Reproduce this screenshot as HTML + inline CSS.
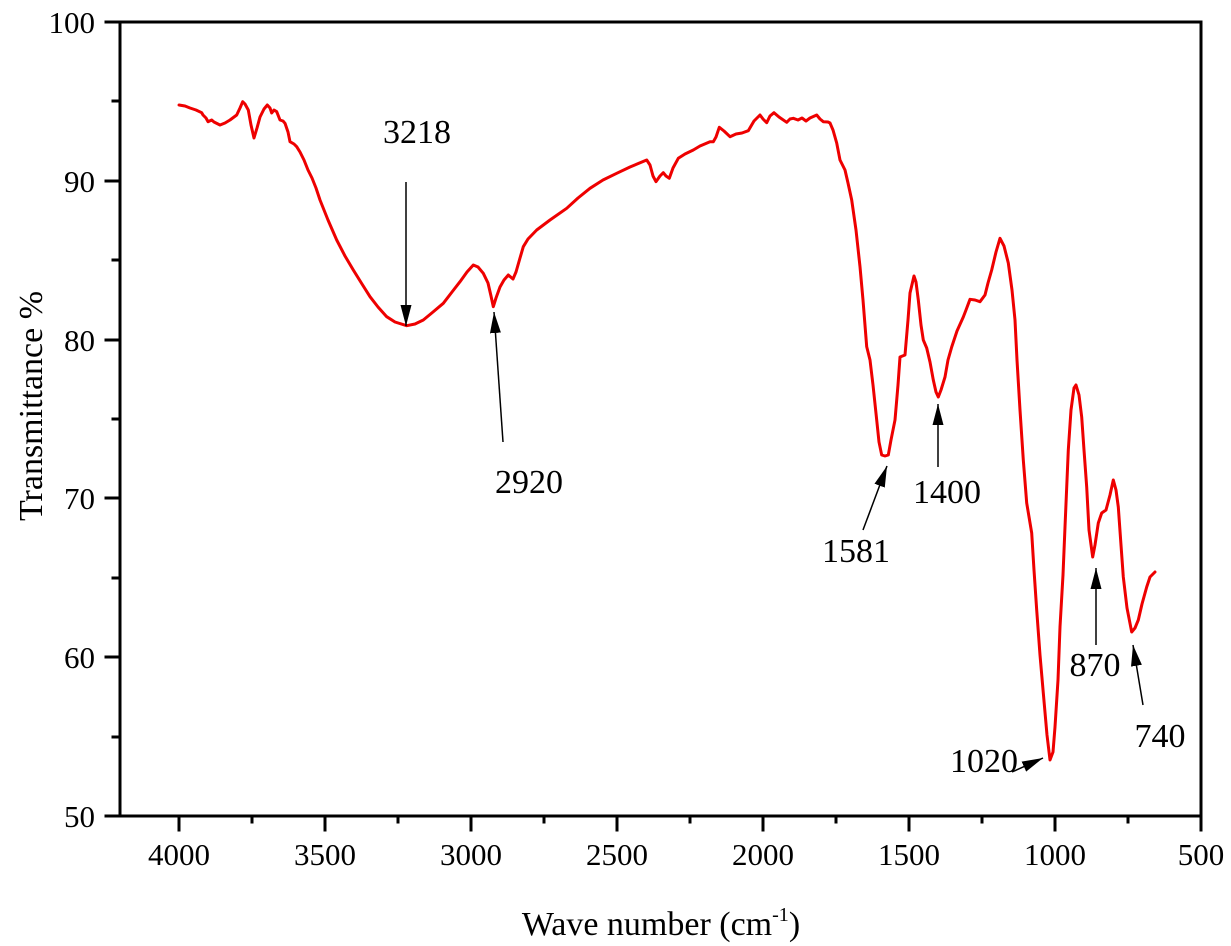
<!DOCTYPE html>
<html>
<head>
<meta charset="utf-8">
<style>
html,body{margin:0;padding:0;background:#fff;}
svg{display:block;}
text{font-family:"Liberation Serif","Times New Roman",serif;fill:#000;}
</style>
</head>
<body>
<svg width="1231" height="946" viewBox="0 0 1231 946" xmlns="http://www.w3.org/2000/svg">
<defs>
<marker id="ah" markerUnits="userSpaceOnUse" markerWidth="22" markerHeight="12" refX="21" refY="6" orient="auto">
<path d="M0,0.5 L21,6 L0,11.5 z" fill="#000"/>
</marker>
</defs>
<rect width="1231" height="946" fill="#fff"/>

<!-- frame -->
<g stroke="#000" stroke-width="3" fill="none" stroke-linecap="square">
<rect x="120" y="22" width="1081" height="794"/>
<line x1="106" y1="22" x2="120" y2="22"/>
<line x1="106" y1="181" x2="120" y2="181"/>
<line x1="106" y1="340" x2="120" y2="340"/>
<line x1="106" y1="498" x2="120" y2="498"/>
<line x1="106" y1="657" x2="120" y2="657"/>
<line x1="106" y1="816" x2="120" y2="816"/>
<line x1="113" y1="101" x2="120" y2="101"/>
<line x1="113" y1="260" x2="120" y2="260"/>
<line x1="113" y1="419" x2="120" y2="419"/>
<line x1="113" y1="578" x2="120" y2="578"/>
<line x1="113" y1="737" x2="120" y2="737"/>
<line x1="179" y1="816" x2="179" y2="830"/>
<line x1="325" y1="816" x2="325" y2="830"/>
<line x1="471" y1="816" x2="471" y2="830"/>
<line x1="617" y1="816" x2="617" y2="830"/>
<line x1="763" y1="816" x2="763" y2="830"/>
<line x1="909" y1="816" x2="909" y2="830"/>
<line x1="1055" y1="816" x2="1055" y2="830"/>
<line x1="1201" y1="816" x2="1201" y2="830"/>
<line x1="252" y1="816" x2="252" y2="822"/>
<line x1="398" y1="816" x2="398" y2="822"/>
<line x1="544" y1="816" x2="544" y2="822"/>
<line x1="690" y1="816" x2="690" y2="822"/>
<line x1="836" y1="816" x2="836" y2="822"/>
<line x1="982" y1="816" x2="982" y2="822"/>
<line x1="1128" y1="816" x2="1128" y2="822"/>
</g>

<g font-size="31" text-anchor="end">
<text x="95" y="33">100</text>
<text x="95" y="192">90</text>
<text x="95" y="351">80</text>
<text x="95" y="509">70</text>
<text x="95" y="668">60</text>
<text x="95" y="827">50</text>
</g>
<g font-size="31" text-anchor="middle">
<text x="179" y="865">4000</text>
<text x="325" y="865">3500</text>
<text x="471" y="865">3000</text>
<text x="617" y="865">2500</text>
<text x="763" y="865">2000</text>
<text x="909" y="865">1500</text>
<text x="1055" y="865">1000</text>
<text x="1201" y="865">500</text>
</g>

<text x="661" y="935" font-size="34" text-anchor="middle">Wave number (cm<tspan font-size="20" dy="-14">-1</tspan><tspan dy="14">)</tspan></text>
<text transform="translate(42,406) rotate(-90)" font-size="34" text-anchor="middle">Transmittance %</text>

<polyline fill="none" stroke="#ee0000" stroke-width="3" stroke-linejoin="round" stroke-linecap="round" points="
179,105 185,106 190,108 196,110 201.7,112.7 203,115 206,118 208,121.7 211.7,120 214,122 220,125 225,123 230,120 236.7,115 240,108 242.7,101.7 245,104 248.3,110 251,125 254,138 257,128 260,117 264,109 267.3,105 270,108 271.7,113 274,110 276.7,111.7 280,120 283,121 285,123.3 288,132 290,141.7 294,144 296.7,146.7 300,152 304,160 308,170 312,178 316,188 320,200 328,220 336.7,240 345,256 353.3,270 362,284 370,296.7 378,307 386.7,316.7 395,322 406.7,325.7 415,324 423.3,320 433,312 443.3,303.3 452,292 460,281.7 467,272 473.3,265 478,267 483.3,273.3 488,283 491,296 493.3,306.7 496,298 500,287 504,280 508.3,275 513,279 516,272 520,258 523.3,246.7 528,239 536.7,230 550,220 566.7,208.3 578,198 590,188.3 603,180 616.7,173.3 630,167 646.7,160 650,165 653,176 656,181.7 660,176 663.3,172.7 666,176 669.3,178.3 673,168 678.3,158.3 685,154 693.3,150 700,146 710,141.7 713.3,141.7 716,137 719.3,127.3 724,131 730,136.7 736,134 742,133 748.3,130.7 754,121 760,115 763,119 766.7,122.7 770,116 774,112.7 779,117 786.7,122.3 790,119 793.3,118.3 798,120 802,118 806,121 810,118 816.7,115 820,119 823.3,121.7 828,122 830,123 833,130 836.7,143 840,160 845,170 848,183 851.7,200 856,230 860,266.7 863,300 866.7,346.7 870,360 873,385 876.7,420 879,442 881.7,455 885,456 888.3,455 891,440 895,420 898,385 900,357 905,355 908,320 910,293 914,276 916,282 918.3,300 921,325 923.3,340 926.7,348 930,362 933.3,380 936,392 938.3,397 941,390 945,377 948,360 951.7,347 957,331 963.3,317 966,310 970,299.3 975,300 980,301.7 985,295 988,283 991.7,270 996,252 1000,238.3 1004,246 1008.3,263 1012,290 1015,320 1017,360 1020,410 1023.3,460 1026.7,503 1031.7,533 1034,570 1036.7,610 1040,655 1043.3,693 1047,735 1050,760 1053,752 1055,727 1058,680 1060,627 1063,575 1065,527 1068.3,450 1071,410 1074,388 1076,385 1079,395 1081.7,417 1084,450 1086.7,487 1089,530 1092.7,557 1095,545 1098.3,523 1101.7,513 1106,510 1110,495 1113.3,480 1116,490 1118.3,507 1121,545 1123.3,577 1127,608 1131.7,632 1135,628 1138.3,620 1142,604 1146.7,587 1150,577 1155,572"/>

<g stroke="#000" stroke-width="1.5" fill="none" marker-end="url(#ah)">
<line x1="406" y1="182" x2="406" y2="326"/>
<line x1="503" y1="442" x2="494" y2="312"/>
<line x1="863" y1="530" x2="887" y2="466"/>
<line x1="938" y1="467" x2="938" y2="404"/>
<line x1="1096" y1="645" x2="1096" y2="568"/>
<line x1="1143" y1="705" x2="1133" y2="645"/>
<line x1="1012" y1="772" x2="1043" y2="758"/>
</g>

<g font-size="34" text-anchor="middle">
<text x="417" y="143">3218</text>
<text x="529" y="493">2920</text>
<text x="856" y="562">1581</text>
<text x="947" y="503">1400</text>
<text x="1095" y="676">870</text>
<text x="1160" y="747">740</text>
<text x="984" y="772">1020</text>
</g>
</svg>
</body>
</html>
